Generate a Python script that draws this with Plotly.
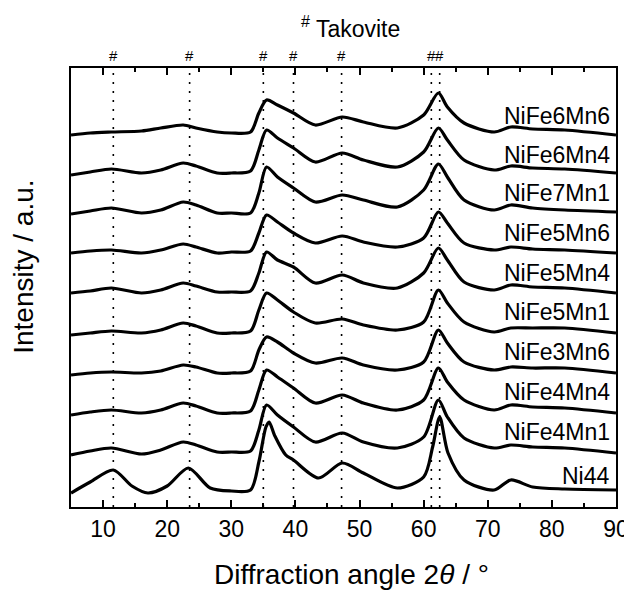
import plotly.graph_objects as go

# ---- data (intensities, arbitrary units above each baseline) ----
two_theta = [5, 8, 11.3, 16, 19, 22.5, 24.5, 27.8, 30, 33, 34.3, 35.5, 37.2, 39.7, 43.1,
             47.3, 50.6, 55.9, 60, 62.3, 63.7, 66.3, 71, 73.6, 77, 82, 90]

NiFe6Mn6 = [0, 2, 3, 4, 7, 10, 7, 3, 2, 3, 22, 35, 30, 22, 10, 18, 13, 7, 20, 42, 28, 12, 3, 8, 6, 5, 0]
NiFe6Mn4 = [0, 3, 6, 2, 5, 12, 9, 2, 2, 4, 25, 45, 37, 27, 13, 22, 15, 8, 23, 47, 35, 15, 5, 9, 7, 6, 2]
NiFe7Mn1 = [-1, 2, 5, 0, 3, 11, 8, 0, 0, 0, 20, 46, 36, 25, 11, 18, 13, 6, 23, 49, 36, 13, 3, 8, 5, 3, 1]
NiFe5Mn6 = [0, 2, 3, 0, 3, 9, 6, 0, 1, 2, 20, 38, 31, 20, 10, 17, 11, 6, 15, 41, 30, 10, 3, 6, 4, 3, 0]
NiFe5Mn4 = [0, 2, 5, 0, 3, 10, 7, 1, 1, 2, 20, 41, 33, 26, 10, 18, 10, 5, 20, 45, 33, 11, 3, 8, 6, 5, 0]
NiFe5Mn1 = [-1, 1, 3, 1, 4, 11, 8, 1, 1, 3, 24, 41, 34, 22, 11, 15, 9, 4, 12, 44, 31, 12, 2, 6, 6, 6, 1]
NiFe3Mn6 = [-1, 1, 2, 1, 3, 9, 7, 1, 1, 3, 24, 37, 32, 21, 11, 16, 9, 4, 12, 44, 31, 12, 4, 7, 6, 6, 1]
NiFe4Mn4 = [-1, 2, 4, 1, 4, 11, 8, 1, 1, 3, 24, 44, 37, 26, 11, 19, 11, 4, 14, 46, 32, 14, 4, 9, 7, 6, 1]
NiFe4Mn1 = [-1, 3, 6, 0, 4, 12, 9, 2, 2, 3, 24, 49, 39, 27, 12, 21, 12, 6, 17, 54, 37, 16, 6, 9, 7, 6, 1]

two_theta_ni44 = [5, 8, 11.6, 14.5, 17, 20, 23.3, 26.7, 30, 33, 34.3, 35.4, 35.9, 36.8, 38.5,
                  39.7, 43.6, 47.3, 50.6, 55.9, 60, 61.4, 62.5, 63.8, 66.3, 71, 73.6, 77, 82, 90]
Ni44 = [-1, 10, 22, 6, -1, 6, 24, 4, 1, 2, 30, 65, 70, 56, 37, 32, 14, 29, 19, 4, 15, 45, 75, 39, 12, 2, 12, 5, 3, 2]

sample_names = ["NiFe6Mn6", "NiFe6Mn4", "NiFe7Mn1", "NiFe5Mn6", "NiFe5Mn4",
                "NiFe5Mn1", "NiFe3Mn6", "NiFe4Mn4", "NiFe4Mn1", "Ni44"]
sample_values = [NiFe6Mn6, NiFe6Mn4, NiFe7Mn1, NiFe5Mn6, NiFe5Mn4,
                 NiFe5Mn1, NiFe3Mn6, NiFe4Mn4, NiFe4Mn1, Ni44]
stack_offsets = [372, 332, 294, 254, 214, 173, 133, 93, 53, 15]
label_y = [391, 352, 314, 274, 234, 195, 155, 115, 75, 31]

takovite_peaks = [11.6, 23.5, 35.0, 39.7, 47.2, 61.2, 62.5]

x_ticks = [10, 20, 30, 40, 50, 60, 70, 80, 90]
x_minor_ticks = [15, 25, 35, 45, 55, 65, 75, 85]

FONT = "Liberation Sans, Arial, Helvetica, sans-serif"

fig = go.Figure()

for name, vals, off in zip(sample_names, sample_values, stack_offsets):
    xs = two_theta_ni44 if name == "Ni44" else two_theta
    fig.add_trace(go.Scatter(
        x=xs, y=[v + off for v in vals], mode="lines", name=name,
        line=dict(color="black", width=3.2, shape="spline", smoothing=0.8),
        showlegend=False, hoverinfo="skip"))

# reference lines for takovite
for p in takovite_peaks:
    fig.add_shape(type="line", xref="x", yref="paper", x0=p, x1=p, y0=0, y1=1,
                  line=dict(color="black", width=1.6, dash="2px,7px"), layer="below")
    fig.add_annotation(x=p, xref="x", y=1.0296, yref="paper", text="#", showarrow=False,
                       font=dict(family=FONT, size=15, color="black"),
                       xanchor="center", yanchor="middle")

# sample labels
for name, ly in zip(sample_names, label_y):
    fig.add_annotation(x=89.4, xref="x", y=ly, yref="y", text=name, showarrow=False,
                       font=dict(family=FONT, size=23, color="black"),
                       xanchor="right", yanchor="middle")

# titles
fig.add_annotation(x=0.513, xref="paper", y=1.093, yref="paper",
                   text="<sup>#</sup> Takovite", showarrow=False,
                   font=dict(family=FONT, size=23, color="black"),
                   xanchor="center", yanchor="middle")
fig.add_annotation(x=0.515, xref="paper", y=-0.153, yref="paper",
                   text="Diffraction angle 2<i>θ</i> / °", showarrow=False,
                   font=dict(family=FONT, size=28, color="black"),
                   xanchor="center", yanchor="middle")
fig.add_annotation(x=-0.0864, xref="paper", y=0.547, yref="paper",
                   text="Intensity / a.u.", showarrow=False, textangle=-90,
                   font=dict(family=FONT, size=28, color="black"),
                   xanchor="center", yanchor="middle")

# the page body adds an 8px margin; margins are reduced so the plot area lands where the reference has it
fig.update_layout(
    width=632, height=590, autosize=False,
    margin=dict(l=63, r=24, t=60, b=91, pad=0),
    paper_bgcolor="white", plot_bgcolor="white",
    font=dict(family=FONT, color="black"),
    xaxis=dict(range=[5, 90], tickvals=x_ticks, ticktext=[str(t) for t in x_ticks],
               ticks="inside", ticklen=7, tickwidth=2, tickcolor="black",
               minor=dict(ticks="inside", ticklen=4, tickwidth=2, tickcolor="black",
                          tickvals=x_minor_ticks),
               showline=True, linewidth=2, linecolor="black", mirror="ticks",
               showgrid=False, zeroline=False, ticklabelstandoff=0,
               tickfont=dict(family=FONT, size=23, color="black")),
    yaxis=dict(range=[0, 439], showticklabels=False, ticks="",
               showline=True, linewidth=2, linecolor="black", mirror=True,
               showgrid=False, zeroline=False),
)

fig.write_html("out.html")
